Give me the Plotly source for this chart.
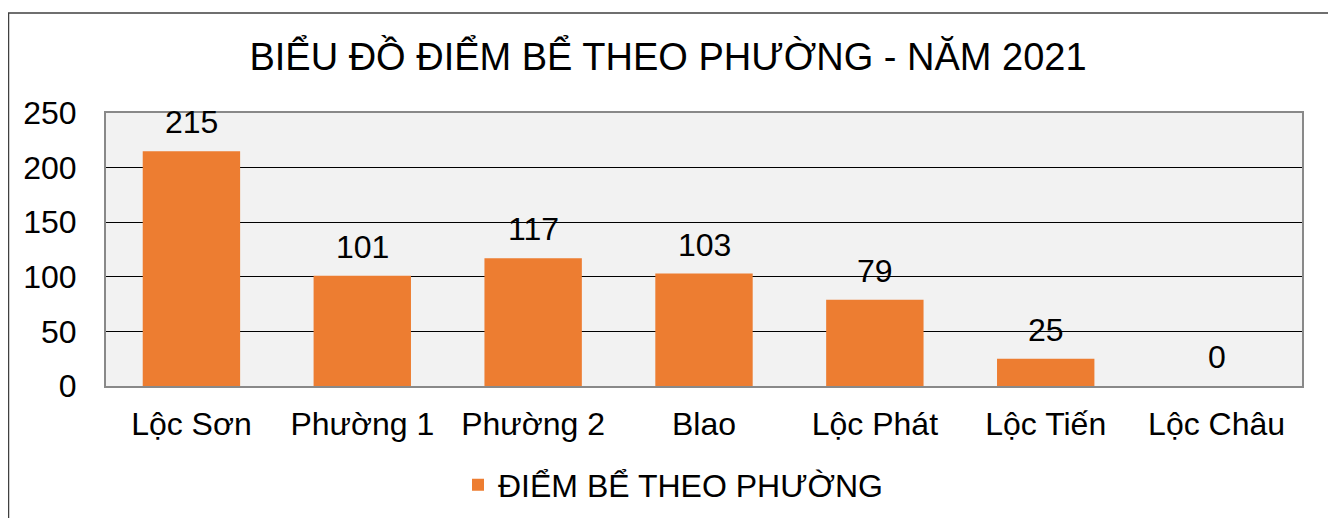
import plotly.graph_objects as go

categories = ["Lộc Sơn", "Phường 1", "Phường 2", "Blao", "Lộc Phát", "Lộc Tiến", "Lộc Châu"]
values = [215, 101, 117, 103, 79, 25, 0]
series_name = "ĐIỂM BỂ THEO PHƯỜNG"
title_text = "BIỂU ĐỒ ĐIỂM BỂ THEO PHƯỜNG - NĂM 2021"
y_ticks = [0, 50, 100, 150, 200, 250]

FONT = "Liberation Sans, Arial, sans-serif"
W, H = 1336, 518
OFF = 8  # page body margin
# plot area in screen pixels
SL, ST, SR, SB = 106, 113, 1302, 386
L, T = SL - OFF, ST - OFF
R, B = W - (SR - OFF), H - (SB - OFF)
pw = W - L - R
ph = H - T - B

def px_to_paper_x(sx):
    return (sx - OFF - L) / pw

def px_to_paper_y(sy):
    return (H - B - (sy - OFF)) / ph

fig = go.Figure()
fig.add_trace(go.Bar(
    x=categories, y=values, name=series_name,
    marker=dict(color="#ED7D31", line=dict(width=0)),
    showlegend=True,
))

for c, v in zip(categories, values):
    fig.add_annotation(x=c, y=v, text=str(v), showarrow=False,
                       yanchor="bottom", yshift=9,
                       font=dict(family=FONT, size=32, color="#000000"))

fig.add_shape(type="rect", xref="paper", yref="paper",
              x0=px_to_paper_x(8.5), x1=px_to_paper_x(1330),
              y0=px_to_paper_y(560), y1=px_to_paper_y(13),
              line=dict(color="#404040", width=1.5), fillcolor="rgba(0,0,0,0)",
              layer="below")

fig.update_layout(
    width=W, height=H,
    margin=dict(l=L, r=R, t=T, b=B),
    paper_bgcolor="#FFFFFF",
    plot_bgcolor="#F2F2F2",
    bargap=0.43,
    font=dict(family=FONT, size=32, color="#000000"),
    title=dict(text=title_text, x=(668 - OFF) / W, xanchor="center", xref="container",
               y=1 - (57 - OFF) / H, yanchor="middle", yref="container",
               font=dict(family=FONT, size=38, color="#000000")),
    legend=dict(orientation="h", x=px_to_paper_x(673), xanchor="center",
                y=px_to_paper_y(485), yanchor="middle",
                font=dict(family=FONT, size=32, color="#000000"),
                itemwidth=30, bgcolor="rgba(0,0,0,0)"),
    xaxis=dict(showgrid=False, showline=True, linecolor="#898989", linewidth=2,
               mirror=True, ticks="", ticklabelstandoff=9,
               tickfont=dict(family=FONT, size=32)),
    yaxis=dict(range=[0, 250], tickvals=y_ticks, showgrid=True, gridcolor="#000000",
               gridwidth=1, showline=True, linecolor="#898989", linewidth=2,
               mirror=True, ticks="", ticklabelstandoff=21, zeroline=False,
               tickfont=dict(family=FONT, size=32)),
)

fig.write_html("out.html")
